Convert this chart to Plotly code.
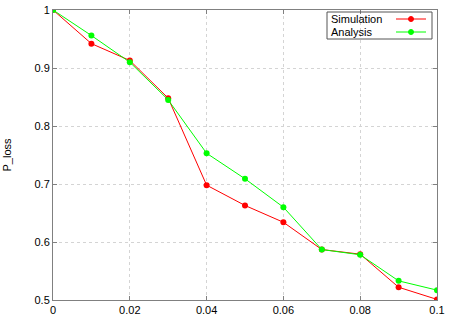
import plotly.graph_objects as go

x_vals = [0, 0.01, 0.02, 0.03, 0.04, 0.05, 0.06, 0.07, 0.08, 0.09, 0.1]
simulation = [1.0, 0.942, 0.913, 0.848, 0.698, 0.663, 0.634, 0.587, 0.579, 0.522, 0.501]
analysis = [1.0, 0.956, 0.910, 0.845, 0.753, 0.709, 0.660, 0.587, 0.578, 0.533, 0.517]
x_ticks = [0, 0.02, 0.04, 0.06, 0.08, 0.1]
x_ticktext = ["0", "0.02", "0.04", "0.06", "0.08", "0.1"]
y_ticks = [0.5, 0.6, 0.7, 0.8, 0.9, 1.0]
y_ticktext = ["0.5", "0.6", "0.7", "0.8", "0.9", "1"]

RED = "#ff0000"
GREEN = "#00ff00"
font = dict(family="Liberation Sans, Arial, sans-serif", size=11, color="#000000")

fig = go.Figure()
fig.add_trace(go.Scatter(x=x_vals, y=simulation, mode="lines+markers", name="Simulation",
                         line=dict(color=RED, width=1), marker=dict(color=RED, size=6),
                         showlegend=False))
fig.add_trace(go.Scatter(x=x_vals, y=analysis, mode="lines+markers", name="Analysis",
                         line=dict(color=GREEN, width=1), marker=dict(color=GREEN, size=6),
                         showlegend=False))

# gnuplot-style legend drawn in paper coordinates
pw, ph = 456 - 53 - 19, 322 - 10 - 22
def px(xp):
    return (xp - 53) / pw
def py(yp):
    return 1 - (yp - 10) / ph

fig.add_shape(type="rect", xref="paper", yref="paper", x0=px(327), x1=px(432), y0=py(39), y1=py(12),
              line=dict(color="#555555", width=1), fillcolor="rgba(0,0,0,0)")
for i, (name, col) in enumerate([("Simulation", RED), ("Analysis", GREEN)]):
    yp = 19 + i * 13
    fig.add_annotation(xref="paper", yref="paper", x=px(329), y=py(yp), text=name, showarrow=False,
                       xanchor="left", yanchor="middle", font=font)
    fig.add_shape(type="line", xref="paper", yref="paper", x0=px(396), x1=px(426), y0=py(yp), y1=py(yp),
                  line=dict(color=col, width=1))
    fig.add_shape(type="circle", xref="paper", yref="paper", x0=px(408.5), x1=px(413.5),
                  y0=py(yp + 2.5), y1=py(yp - 2.5), line=dict(color=col, width=1), fillcolor=col)

axis_common = dict(showline=True, linecolor="#808080", linewidth=1, mirror="ticks",
                   ticks="inside", ticklen=4, tickcolor="#808080",
                   showgrid=True, gridcolor="#d4d4d4", griddash="dot", gridwidth=1,
                   zeroline=False, tickfont=font, automargin=False)

fig.update_layout(
    width=456, height=322,
    margin=dict(l=53, r=19, t=10, b=22, autoexpand=False),
    paper_bgcolor="white", plot_bgcolor="white",
    font=font,
    xaxis=dict(range=[0, 0.1], tickvals=x_ticks, ticktext=x_ticktext, **axis_common),
    yaxis=dict(range=[0.5, 1.0], tickvals=y_ticks, ticktext=y_ticktext,
               title=dict(text="P_loss", font=font, standoff=20), **axis_common),
)

fig.write_html("out.html", post_script="document.body.style.margin='0';",
               config={"displayModeBar": False})
